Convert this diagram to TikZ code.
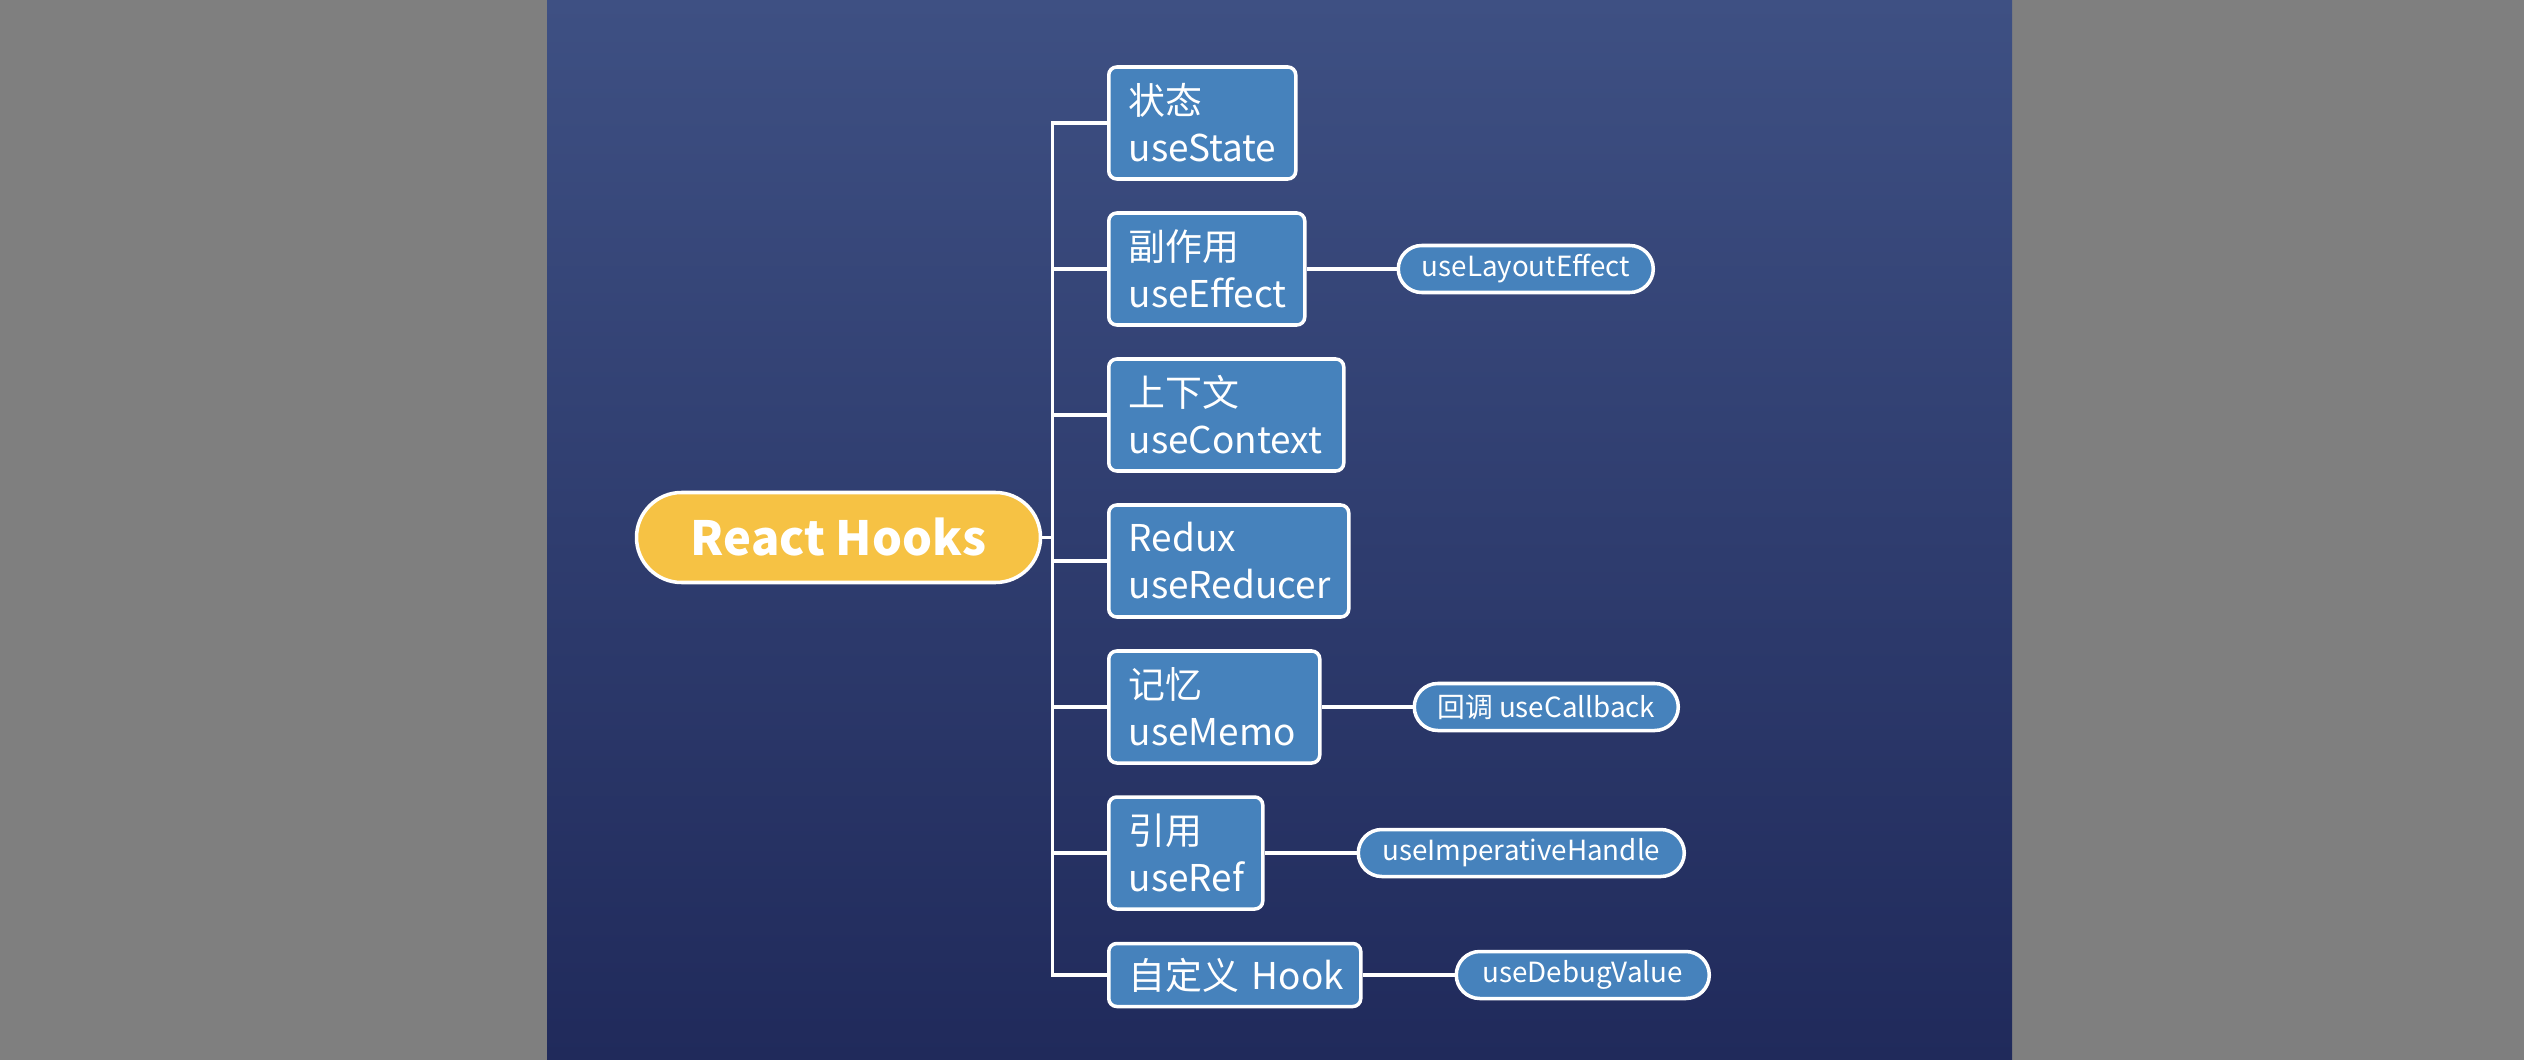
\documentclass[tikz,border=0pt]{standalone}
\usepackage{fontspec}
\setmainfont{Noto Sans CJK SC}
\usepackage{tikz}
\usetikzlibrary{positioning}
\definecolor{pagegray}{HTML}{7F7F7F}
\definecolor{bgtop}{HTML}{3E5083}
\definecolor{bgbottom}{HTML}{202A5B}
\definecolor{hookblue}{HTML}{4682BC}
\definecolor{rootyellow}{HTML}{F6C244}

\begin{document}
\begin{tikzpicture}[
    hookbox/.style={draw=white, line width=1pt, fill=hookblue, text=white, rounded corners=0.08cm,
        font=\fontsize{10.5}{13.4}\selectfont, align=left, inner xsep=0.2cm, inner ysep=0pt,
        minimum height=1.12cm, anchor=west},
    extrabox/.style={draw=white, line width=1pt, fill=hookblue, text=white, rounded corners=0.235cm,
        font=\fontsize{7.9}{10}\selectfont, inner sep=0pt, minimum height=0.47cm},
    link/.style={white, line width=0.9pt}
]
    % Page and background
    \useasboundingbox (0,0) rectangle (25.24,-10.60);
    \fill[pagegray] (0,0) rectangle (25.24,-10.60);
    \shade[top color=bgtop, bottom color=bgbottom] (5.47,0) rectangle (20.12,-10.60);

    % Root
    \node[draw=white, line width=1pt, fill=rootyellow, text=white, rounded corners=0.45cm,
        minimum width=4.04cm, minimum height=0.90cm, inner sep=0pt,
        font=\fontsize{13.4}{16}\selectfont\bfseries] (root) at (8.385,-5.375) {React Hooks};

    % Hooks
    \node[hookbox, text width=1.47cm] (state) at (11.07,-1.23) {状态\\useState};
    \node[hookbox, text width=1.56cm] (effect) at (11.07,-2.69) {副作用\\useEffect};
    \node[hookbox, text width=1.95cm] (context) at (11.07,-4.15) {上下文\\useContext};
    \node[hookbox, text width=2.00cm] (reducer) at (11.07,-5.61) {Redux\\useReducer};
    \node[hookbox, text width=1.71cm] (memo) at (11.07,-7.07) {记忆\\useMemo};
    \node[hookbox, text width=1.14cm] (ref) at (11.07,-8.53) {引用\\useRef};
    \node[hookbox, text width=2.12cm, minimum height=0.63cm] (custom) at (11.07,-9.75) {自定义~Hook};

    % Related hooks
    \node[extrabox, minimum width=2.55cm, right=0.90cm of effect] (layout) {useLayoutEffect};
    \node[extrabox, minimum width=2.64cm, right=0.91cm of memo] (callback) {回调 useCallback};
    \node[extrabox, minimum width=3.26cm, right=0.92cm of ref] (imperative) {useImperativeHandle};
    \node[extrabox, minimum width=2.53cm, right=0.92cm of custom] (debug) {useDebugValue};

    % Tree lines
    \foreach \hook in {state,effect,context,reducer,memo,ref,custom} {
        \draw[link] (root.east) -- ++(0.1,0) |- (\hook.west);
    }
    \draw[link] (effect) -- (layout);
    \draw[link] (memo) -- (callback);
    \draw[link] (ref) -- (imperative);
    \draw[link] (custom) -- (debug);
\end{tikzpicture}
\end{document}
